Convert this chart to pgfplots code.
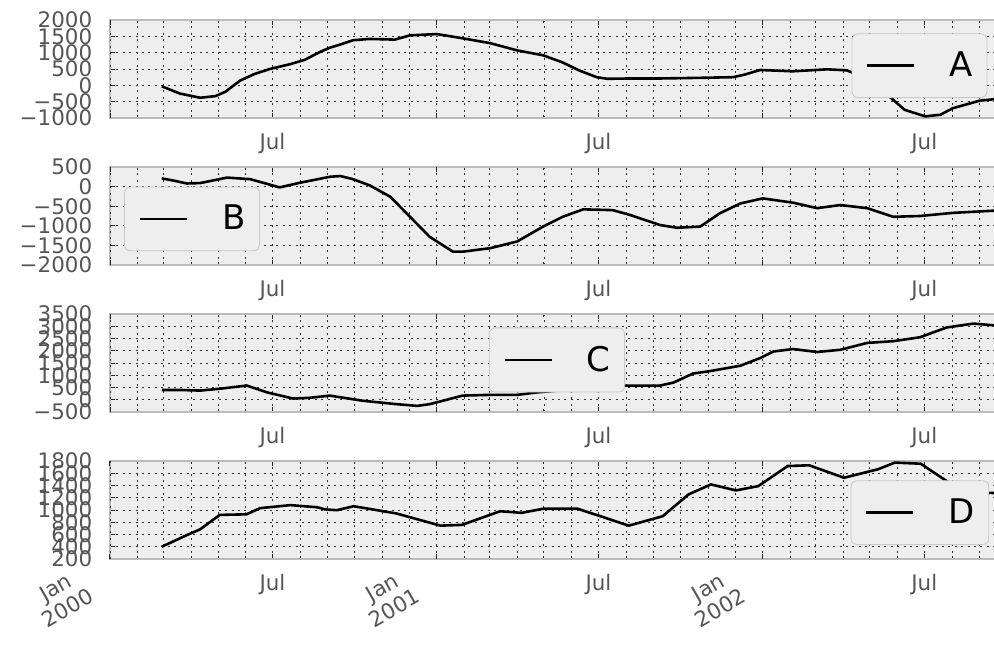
\documentclass[border=0pt]{standalone}
\usepackage{fontspec}
\setmainfont{DejaVu Sans}
\usepackage{pgfplots}
\pgfplotsset{compat=1.18}
\definecolor{tickgray}{HTML}{555555}
\definecolor{panelbg}{HTML}{EEEEEE}
\definecolor{framegray}{HTML}{BCBCBC}
\newcommand{\jan}[1]{\begin{tabular}{@{}c@{}}Jan\\#1\end{tabular}}
\pgfplotsset{panel/.style={scale only axis, width=446pt, height=49pt,
  xmin=0, xmax=999, anchor=north west,
  axis background/.style={fill=panelbg},
  axis line style={draw=framegray, line width=0.9pt},
  tick align=inside, major tick length=2.5pt, minor tick length=1.5pt,
  tick style={black!85, line width=0.5pt},
  xtick={182,547,912}, xticklabels={Jul,Jul,Jul},
  minor xtick={31,60,91,121,152,213,244,274,305,335,397,425,456,486,517,578,609,639,670,700,762,790,821,851,882,943,974},
  extra x ticks={0,366,731},
  xmajorgrids, xminorgrids, ymajorgrids,
  grid style={black!80, line width=0.45pt, dash pattern=on 1pt off 2.2pt},
  minor grid style={black!80, line width=0.45pt, dash pattern=on 1pt off 2.2pt},
  tick label style={font=\fontsize{10.7}{12}\selectfont, text=tickgray},
  yticklabel style={xshift=-5.4pt},
  xticklabel style={yshift=-4pt},
  cycle list={{black, no marks}},
  every axis plot post/.append style={line width=1.3pt},
  legend style={fill=panelbg, draw=black!22, rounded corners=3pt,
    anchor=center, inner xsep=7pt, inner ysep=9pt, nodes={inner sep=0pt},
    font=\fontsize{17}{20}\selectfont,
    /tikz/every odd column/.append style={column sep=17pt}},
  legend image code/.code={\draw[black, line width=1.3pt] (4pt,0pt) -- (27.5pt,0pt);}}}

\begin{document}
\begin{tikzpicture}
\useasboundingbox (0,0) rectangle (497pt,-327.5pt);
% A
\begin{axis}[panel, at={(55pt,-10pt)}, ymin=-1000, ymax=2000,
  ytick={-1000,-500,0,500,1000,1500,2000},
  yticklabels={−1000,−500,0,500,1000,1500,2000},
  extra x tick labels={,,},
  legend style={at={(0.9075,0.534)}}]
\addplot coordinates {(58,-30) (78,-250) (101,-380) (118,-330) (129,-200)
  (146,150) (162,350) (179,500) (202,650) (218,780) (235,1020) (246,1150)
  (258,1250) (272,1380) (290,1420) (306,1410) (319,1400) (336,1530)
  (366,1570) (395,1440) (426,1290) (456,1070) (485,920) (507,700) (526,450)
  (545,250) (557,200) (582,210) (616,210) (661,230) (698,250) (711,330)
  (728,470) (765,430) (803,490) (825,460) (840,300) (857,0) (874,-370)
  (890,-750) (913,-950) (930,-900) (944,-700) (974,-470) (999,-400)};
\addlegendentry{A}
\end{axis}
% B
\begin{axis}[panel, at={(55pt,-83.5pt)}, ymin=-2000, ymax=500,
  ytick={-2000,-1500,-1000,-500,0,500},
  yticklabels={−2000,−1500,−1000,−500,0,500},
  extra x tick labels={,,},
  legend style={at={(0.0919,0.471)}}]
\addplot coordinates {(58,210) (72,150) (86,80) (101,90) (131,230) (157,190)
  (190,-20) (213,100) (246,250) (258,270) (272,190) (291,30) (314,-260)
  (336,-770) (358,-1280) (384,-1660) (395,-1660) (426,-1570) (456,-1400)
  (485,-1020) (507,-770) (530,-580) (563,-600) (582,-720) (616,-980)
  (635,-1050) (661,-1020) (683,-680) (706,-430) (731,-300) (765,-410)
  (792,-550) (818,-470) (848,-550) (877,-770) (907,-750) (944,-670)
  (989,-615) (999,-610)};
\addlegendentry{B}
\end{axis}
% C
\begin{axis}[panel, at={(55pt,-157pt)}, ymin=-500, ymax=3500,
  ytick={-500,0,500,1000,1500,2000,2500,3000,3500},
  yticklabels={−500,0,500,1000,1500,2000,2500,3000,3500},
  extra x tick labels={,,},
  legend style={at={(0.501,0.531)}}]
\addplot coordinates {(58,400) (78,400) (101,375) (123,450) (153,580)
  (176,300) (205,50) (224,80) (246,170) (283,-40) (321,-180) (344,-250)
  (358,-180) (395,170) (426,200) (456,200) (478,300) (504,380) (549,540)
  (575,580) (616,580) (631,700) (653,1070) (672,1170) (706,1390) (728,1700)
  (743,1970) (765,2070) (792,1950) (818,2040) (848,2320) (877,2390)
  (907,2550) (937,2950) (967,3110) (989,3040) (999,3000)};
\addlegendentry{C}
\end{axis}
% D
\begin{axis}[panel, at={(55pt,-230.5pt)}, ymin=200, ymax=1800,
  ytick={200,400,600,800,1000,1200,1400,1600,1800},
  yticklabels={200,400,600,800,1000,1200,1400,1600,1800},
  extra x tick labels={{\jan{2000}},{\jan{2001}},{\jan{2002}}},
  extra x tick style={xticklabel style={rotate=30, anchor=north east,
    xshift=-11.5pt, yshift=13pt}},
  legend style={at={(0.908,0.474)}}]
\addplot coordinates {(58,400) (86,590) (101,685) (123,920) (153,930)
  (168,1030) (202,1080) (232,1045) (241,1010) (254,997) (273,1062) (321,943)
  (370,745) (394,757) (437,980) (461,954) (485,1020) (524,1020) (581,745)
  (619,899) (648,1255) (673,1418) (701,1320) (726,1390) (759,1718)
  (783,1730) (822,1527) (860,1665) (879,1774) (908,1756) (937,1473)
  (963,1250) (986,1280) (999,1270)};
\addlegendentry{D}
\end{axis}
\end{tikzpicture}
\end{document}
